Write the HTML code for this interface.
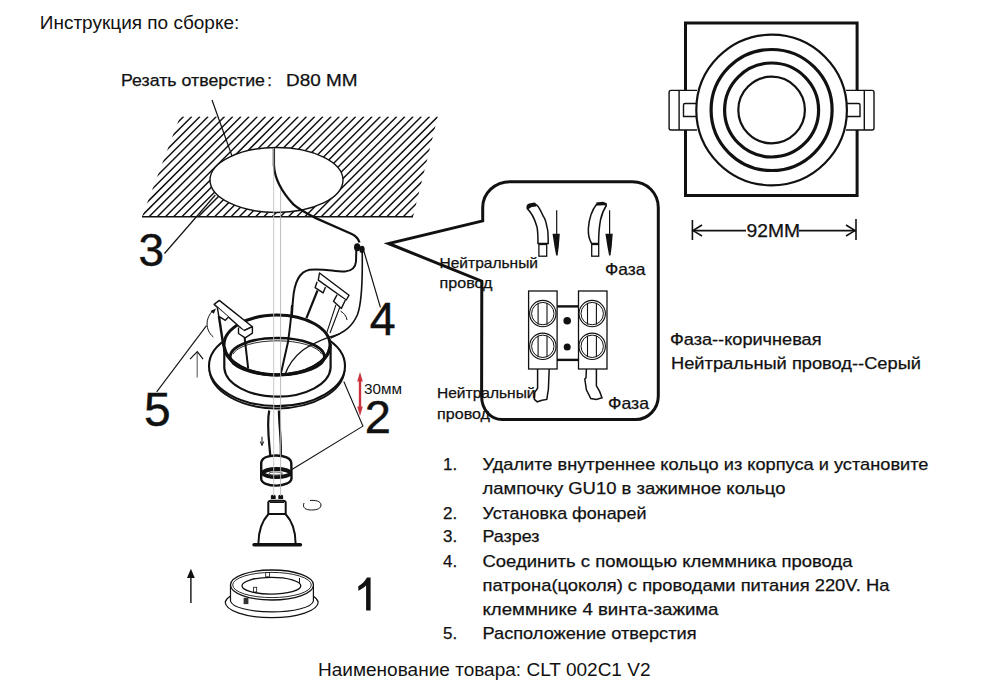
<!DOCTYPE html>
<html><head><meta charset="utf-8">
<style>
html,body{margin:0;padding:0;background:#fff;width:1000px;height:690px;overflow:hidden}
svg{display:block}
text{font-family:"Liberation Sans",sans-serif;fill:#111}
.cal text{stroke:#111;stroke-width:0.25}
text.big{stroke:#111;stroke-width:0.45}
</style></head><body>
<svg width="1000" height="690" viewBox="0 0 1000 690">
<defs>
  <pattern id="hatch" patternUnits="userSpaceOnUse" width="8.3" height="8.3" patternTransform="rotate(45)">
    <line x1="0" y1="0" x2="0" y2="8.3" stroke="#111" stroke-width="1.3"/>
  </pattern>
  <clipPath id="hclip"><path d="M180,116.6 L437.8,116.6 L413,216.8 L142,216.8 Z"/></clipPath>
</defs>

<!-- title -->

<!-- hatched ceiling -->
<g clip-path="url(#hclip)">
  <path d="M544.4,116.6 l-102,102 M536.2,116.6 l-102,102 M528.0,116.6 l-102,102 M519.8,116.6 l-102,102 M511.6,116.6 l-102,102 M503.4,116.6 l-102,102 M495.2,116.6 l-102,102 M487.0,116.6 l-102,102 M478.8,116.6 l-102,102 M470.6,116.6 l-102,102 M462.4,116.6 l-102,102 M454.2,116.6 l-102,102 M446.0,116.6 l-102,102 M437.8,116.6 l-102,102 M429.6,116.6 l-102,102 M421.4,116.6 l-102,102 M413.2,116.6 l-102,102 M405.0,116.6 l-102,102 M396.8,116.6 l-102,102 M388.6,116.6 l-102,102 M380.4,116.6 l-102,102 M372.2,116.6 l-102,102 M364.0,116.6 l-102,102 M355.8,116.6 l-102,102 M347.6,116.6 l-102,102 M339.4,116.6 l-102,102 M331.2,116.6 l-102,102 M323.0,116.6 l-102,102 M314.8,116.6 l-102,102 M306.6,116.6 l-102,102 M298.4,116.6 l-102,102 M290.2,116.6 l-102,102 M282.0,116.6 l-102,102 M273.8,116.6 l-102,102 M265.6,116.6 l-102,102 M257.4,116.6 l-102,102 M249.2,116.6 l-102,102 M241.0,116.6 l-102,102 M232.8,116.6 l-102,102 M224.6,116.6 l-102,102 M216.4,116.6 l-102,102 M208.2,116.6 l-102,102 M200.0,116.6 l-102,102 M191.8,116.6 l-102,102 M183.6,116.6 l-102,102 M175.4,116.6 l-102,102 M167.2,116.6 l-102,102 M159.0,116.6 l-102,102 M150.8,116.6 l-102,102 M142.6,116.6 l-102,102 M134.4,116.6 l-102,102" stroke="#111" stroke-width="1.45" fill="none"/>
</g>
<ellipse cx="276.5" cy="180" rx="66.5" ry="32.5" fill="#fff" stroke="#111" stroke-width="1.4"/>
<line x1="142" y1="216.8" x2="413" y2="216.8" stroke="#111" stroke-width="1.6"/>
<line x1="212" y1="100" x2="232" y2="156" stroke="#111" stroke-width="1.2"/>
<line x1="164.5" y1="253.5" x2="215.3" y2="195" stroke="#111" stroke-width="1.2"/>


<!-- wire top -->
<path d="M273.9,147.8 L273.9,165 C274.5,178 280,190 293.4,204.4 C298,208.5 304,212 314.7,217.6 L351.2,233.8 C356,236 358.5,239 359.5,242.5" fill="none" stroke="#111" stroke-width="2.3"/>
<ellipse cx="357.2" cy="247.2" rx="3.2" ry="4" fill="#111"/>
<ellipse cx="362" cy="249.4" rx="2.7" ry="3.6" fill="#111"/>
<line x1="364" y1="251.5" x2="380.4" y2="307.4" stroke="#111" stroke-width="1.2"/>
<!-- wire A -->
<path d="M356.3,250 L356,261.5 C355.5,267 353,271 345,271.5 C336,272 322,268 309.6,269.8 C298,272 294,285 293,300 C292,310 292,320 291,330" fill="none" stroke="#111" stroke-width="2"/>
<!-- wire B -->
<path d="M362.2,252 C362.5,270 363,300 357.4,314.8 C352,327 345,332 330.6,338" fill="none" stroke="#111" stroke-width="1.6"/>

<!-- big digits -->

<!-- ring (2) -->
<g fill="none" stroke="#111">
  <path d="M209.5,370 A67.6,40 0 0 0 344.6,370" stroke-width="1.9"/>
  <ellipse cx="277" cy="366" rx="68" ry="40" fill="#fff" stroke-width="2.1"/>
</g>
<path d="M224.3,345 L224.3,368 A53.2,30 0 0 0 330.6,368 L330.6,345 Z" fill="#fff" stroke="#111" stroke-width="2.2"/>
<ellipse cx="277" cy="345" rx="53" ry="30" fill="#fff" stroke="#111" stroke-width="3"/>
<!-- clip legs behind -->
<g stroke="#111" fill="none">
  <path d="M218.9,316.3 L223.4,346" stroke-width="2.4"/>
  <path d="M244.6,337.4 L248.2,368.6" stroke-width="2"/>
  <path d="M317.5,290.5 L306.4,318.2" stroke-width="2.2"/>
  <path d="M335.9,304.8 L326.8,332.6 M339.8,307.2 L330,333" stroke-width="1.1"/>
</g>
<!-- inner wires -->
<path d="M292,305 C291,320 289,335 288,342 L280.6,375" fill="none" stroke="#111" stroke-width="2"/>
<path d="M340,333.8 C328,337 313,343 303,350 C294,357 288,366 284.8,375" fill="none" stroke="#111" stroke-width="1.3"/>
<ellipse cx="277.3" cy="356.5" rx="47.1" ry="18.5" fill="none" stroke="#111" stroke-width="2.7"/>
<path d="M233,354 A45,16 0 0 1 321.6,354" fill="none" stroke="#111" stroke-width="0.9"/>
<!-- re-draw rim front -->
<path d="M224.3,347 A53,30 0 0 0 330,347" fill="none" stroke="#111" stroke-width="3"/>
<!-- clips -->
<g stroke="#111" stroke-width="1.4" fill="#fff" stroke-linejoin="round">
  <path d="M214.1,304.4 L219.3,300.4 L252.4,326.7 L244,330.7 Z"/>
  <path d="M244,330.7 L252.4,326.7 L252.4,333.1 L245.2,337.8 L238.5,333.5 L238.5,327.5"/>
  <path d="M217.3,307.5 L218.9,316.3 L225.3,320.3 L228.5,317.1"/>
  <path d="M319.5,273 L349,295.3 L346.2,300 L318.3,280.1 Z"/>
  <path d="M317.1,281.7 L315.1,287.7 L323.1,292.9 L325.5,286.9"/>
  <path d="M337,294.9 L333.5,301.3 L341.4,308.4 L345.4,300"/>
</g>
<g stroke="#111" fill="none" stroke-width="1">
  <path d="M213.3,337 C205,330 205,318 213.3,310.3"/>
  <path d="M340.6,311.2 C344,313 346.5,316 347,320"/>
</g>
<path d="M210.5,311 L216,308.5 L213.8,313.8 Z" fill="#111"/>
<!-- red arrow 30mm -->
<g stroke="#cc3540" fill="#cc3540">
  <line x1="360" y1="378" x2="360" y2="410" stroke-width="2.4"/>
  <path d="M357.2,381.5 L360,372 L362.8,381.5 Z" stroke="none"/>
  <path d="M357.2,406.5 L360,416 L362.8,406.5 Z" stroke="none"/>
</g>
<polyline points="343.8,381.5 362.9,426.1 291.5,469.7" fill="none" stroke="#111" stroke-width="1.1"/>

<!-- clip 5 leader, arrows -->
<line x1="156.7" y1="391.9" x2="206.5" y2="325.6" stroke="#111" stroke-width="1.1"/>
<line x1="197.2" y1="377.5" x2="197.2" y2="353" stroke="#777" stroke-width="1.3"/>
<polyline points="190,359.2 197.3,351.6 203.1,359.2" stroke="#111" fill="none" stroke-width="1.2"/>

<!-- cable + socket -->
<path d="M269.2,410.5 C266.5,425 269,440 270.3,456" fill="none" stroke="#111" stroke-width="2.2"/>
<path d="M278.9,410.5 C279,425 281.5,440 280.8,456" fill="none" stroke="#111" stroke-width="2.2"/>
<path d="M261.2,463.1 C261.5,458 268,455.5 276.1,455.5 C284,455.5 291,458 291.3,463.1 L291.5,478.3 C291,483 284,485.6 276.5,485.6 C268,485.6 261.5,483 261.2,479 Z" fill="#fff" stroke="#111" stroke-width="2.4"/>
<ellipse cx="276.6" cy="473.1" rx="13.6" ry="4" fill="none" stroke="#111" stroke-width="4"/>
<ellipse cx="275.7" cy="473.6" rx="6.5" ry="1.6" fill="none" stroke="#555" stroke-width="1.2"/>
<g stroke="#111" fill="none" stroke-width="1">
  <line x1="262" y1="436.7" x2="262" y2="445"/>
  <polyline points="260.3,441.5 262,445.5 263.7,441.5"/>
</g>

<!-- lamp -->
<path d="M270.9,499.1 L270.9,496 Q271,494.8 273.3,494.8 Q275.7,494.8 275.7,496 L275.7,499.1 Z M278.3,499.1 L278.3,496 Q278.4,494.8 280.7,494.8 Q283.1,494.8 283.1,496 L283.1,499.1 Z" fill="#111"/>
<path d="M268.3,513.9 L268.3,502.5 Q268.5,500.8 271,500.8 L283,500.8 Q285.6,500.8 285.7,502.5 L285.7,513.9 Z" fill="#fff" stroke="#111" stroke-width="2"/>
<line x1="270" y1="502.3" x2="284" y2="502.3" stroke="#111" stroke-width="1.4"/>
<path d="M268.3,514.2 C262,521 258.5,530 258.4,543.5 M285.7,514.2 C292,521 295.6,530 295.6,543.5" fill="none" stroke="#111" stroke-width="2"/>
<line x1="254" y1="544.8" x2="300.5" y2="544.8" stroke="#111" stroke-width="3.4" stroke-linecap="round"/>
<path d="M304,503 C302,508 306,510 311.6,510 C318,510 321,508 321,505 C321,501 315,500 310,500.5" fill="none" stroke="#111" stroke-width="1"/>

<!-- ring 1 -->
<path d="M225.2,602 A46.5,15.7 0 0 0 318.2,602 A46.5,15.7 0 0 0 313,596 L230.5,596 A46.5,15.7 0 0 0 225.2,602 Z" fill="#fff" stroke="#111" stroke-width="1.2"/>
<path d="M230.5,585 L230.5,601 A41.5,11.5 0 0 0 313.4,601 L313.4,585 Z" fill="#fff" stroke="#111" stroke-width="1.2"/>
<ellipse cx="272" cy="585" rx="41.5" ry="15" fill="#fff" stroke="#111" stroke-width="1.3"/>
<ellipse cx="272" cy="585" rx="39.3" ry="12.6" fill="none" stroke="#111" stroke-width="0.9"/>
<ellipse cx="271.4" cy="585.7" rx="29.4" ry="8.4" fill="none" stroke="#111" stroke-width="1.3"/>
<rect x="265.7" y="572.6" width="3.7" height="4.2" fill="#fff" stroke="#111" stroke-width="0.8"/>
<rect x="253.6" y="587.3" width="3.1" height="4.7" fill="#fff" stroke="#111" stroke-width="0.8"/>
<rect x="243.6" y="597.8" width="4.8" height="6.3" fill="#333"/>
<line x1="299.5" y1="578" x2="299.5" y2="583" stroke="#111" stroke-width="1"/>
<g stroke="#111" stroke-width="1.4"><line x1="190.9" y1="603" x2="190.9" y2="575"/></g>
<path d="M187,578 L190.9,568.7 L194.8,578 Z" fill="#111"/>

<!-- center axis -->
<line x1="273.7" y1="148" x2="273.7" y2="496" stroke="#c4c4c4" stroke-width="0.9"/>
<line x1="280.6" y1="190" x2="280.6" y2="496" stroke="#b4b4b4" stroke-width="0.9"/>
<!-- speech bubble -->
<path d="M482.7,207.7 C482.7,193 495,181.7 510,181.7 L632.3,181.7 C647,181.7 658.3,193 658.3,207.7 L658.3,396 C658.3,409 648,419.5 636,419.5 L502,419.5 C491,419.5 481.6,410 481.6,396 L481.8,281.2 L388.5,243.5 L482.7,220.9 Z" fill="none" stroke="#111" stroke-width="3"/>


<!-- wire icons -->
<g fill="none" stroke="#111" stroke-width="1.5">
  <path d="M527.3,208.6 C531,212 535,220 537,227 C538,232 538,238 538,243.5 L548.2,243.5 C548.2,236 548,230 547.2,228 C546,222 544,217 543.3,216.4 C541,211 539,207 536.5,204.7"/>
  <rect x="538.9" y="244.5" width="7.8" height="11.7" stroke-width="1.3"/>
  <path d="M596.6,204.2 C592,210 589,220 588.4,228 C588,234 589.5,240 591.6,243.5 L598.6,243.5 C598.6,236 599,228 600.5,220 C602,213 604,209 606.4,205.5"/>
  <rect x="591.7" y="244.5" width="7" height="11.7" stroke-width="1.3"/>
  <line x1="556.7" y1="210.3" x2="556.7" y2="236" stroke-width="1.2"/>
  <line x1="609.6" y1="210.3" x2="609.6" y2="236" stroke-width="1.2"/>
</g>
<path d="M526.3,208.6 L526.8,205 L529,203.6 L534.6,202.6 L537,204.5 L536.2,206.5 L531.7,207 L527.8,209.5 Z" fill="#111"/>
<path d="M596,205.6 L596.3,202.6 L603,201.8 L606.8,203.2 L607,206 L604,205.2 L599,205.6 Z" fill="#111"/>
<path d="M552.5,233.8 L559.8,233.8 L558.8,246.5 L557.6,255.5 L556.2,255.5 L554.5,246.5 Z" fill="#111"/>
<path d="M605.4,233.8 L612.7,233.8 L611.7,246.5 L610.5,255.5 L609.1,255.5 L607.4,246.5 Z" fill="#111"/>

<!-- terminal block -->
<g fill="none" stroke="#111">
  <rect x="528.6" y="291" width="28.5" height="78" stroke-width="1.3"/>
  <rect x="578.5" y="291" width="28.5" height="78" stroke-width="1.3"/>
  <line x1="557" y1="306.4" x2="578.5" y2="306.4" stroke-width="2.4"/>
  <line x1="557" y1="359.9" x2="578.5" y2="359.9" stroke-width="2.4"/>
  <circle cx="542.8" cy="313.6" r="13.2" stroke-width="1.1"/><circle cx="542.8" cy="313.6" r="11.2" stroke-width="1"/>
  <circle cx="542.8" cy="346.3" r="13.2" stroke-width="1.1"/><circle cx="542.8" cy="346.3" r="11.2" stroke-width="1"/>
  <circle cx="592.2" cy="313.6" r="13.2" stroke-width="1.1"/><circle cx="592.2" cy="313.6" r="11.2" stroke-width="1"/>
  <circle cx="592.2" cy="346.3" r="13.2" stroke-width="1.1"/><circle cx="592.2" cy="346.3" r="11.2" stroke-width="1"/>
  <path d="M538.1,303 V324.5 M547,303 V324.5 M538.1,335.7 V357 M547,335.7 V357 M587.5,303 V324.5 M596.4,303 V324.5 M587.5,335.7 V357 M596.4,335.7 V357" stroke-width="1.1"/>
  <path d="M537.6,369 L537.6,388.2 L534.8,392.2 L534.4,399.4 L537.2,401.8 L542,400.2 L546.8,399.4 L548.4,389 L549.2,369" stroke-width="1.5"/>
  <path d="M586.4,369 L586,377.8 L584.8,379 L586.4,389.8 L590.8,398.6 L596.4,399.4 L602,397.8 L599.6,391.4 L596.4,385.8 L596.4,369" stroke-width="1.5"/>
</g>
<circle cx="567.2" cy="320.7" r="3.8" fill="#111"/>
<circle cx="567.2" cy="346.9" r="3.5" fill="#111"/>

<!-- top view -->
<g fill="none" stroke="#111">
  <rect x="685.5" y="23" width="171.6" height="172.5" fill="#fff" stroke-width="3"/>
  <path d="M697,90.4 L671,90.4 Q669.1,90.4 669.1,92.5 L669.1,128 Q669.1,130 671,130 L697,130 M679.1,90.4 V130 M697,103.5 L685,103.5 Q683.5,103.5 683.5,105 L683.5,116.5 L697,116.5" stroke-width="1.4" fill="#fff"/>
  <path d="M846,90.4 L872,90.4 Q874,90.4 874,92.5 L874,128 Q874,130 872,130 L846,130 M864.3,90.4 V130 M846,103.5 L858.5,103.5 Q860,103.5 860,105 L860,116.5 L846,116.5" stroke-width="1.4" fill="#fff"/>
  <circle cx="771.6" cy="110" r="75.3" fill="#fff" stroke-width="2.2"/>
  <circle cx="771.6" cy="110" r="60.5" stroke-width="3.2"/>
  <circle cx="771.6" cy="110" r="47" stroke-width="3.2"/>
  <circle cx="771.6" cy="110" r="33.3" stroke-width="2.2"/>
</g>
<g stroke="#111" fill="none" stroke-width="1.6">
  <line x1="692.4" y1="220" x2="692.4" y2="240"/>
  <line x1="856" y1="219" x2="856" y2="240"/>
  <line x1="692.4" y1="230.6" x2="746" y2="230.6"/>
  <line x1="799" y1="230.6" x2="856" y2="230.6"/>
  <polyline points="702,225 693,230.6 702,236"/>
  <polyline points="846,225 855,230.6 846,236"/>
</g>

<!-- right legend -->

<!-- list -->
<!-- TEXTS -->
<g class="arial">
<text x="39.8" y="29.2" font-size="18.8" textLength="199.5" lengthAdjust="spacingAndGlyphs">Инструкция по сборке:</text>
<text x="318" y="675.9" font-size="18.9" textLength="332.5" lengthAdjust="spacingAndGlyphs">Наименование товара: CLT 002C1 V2</text>
<text x="364" y="394.2" font-size="14.6" textLength="38" lengthAdjust="spacingAndGlyphs">30мм</text>
<text class="big" x="138.6" y="265.6" font-size="46">3</text>
<text class="big" x="369.8" y="335.2" font-size="46.5">4</text>
<text class="big" x="144" y="425.6" font-size="48">5</text>
<text class="big" x="364.8" y="433" font-size="47">2</text>
</g>
<path d="M366.1,610.4 L366.1,585.5 C363.5,588 361,589.5 358.3,590.8 L358.3,586.3 C362,584 365,581 367,577.4 L370.6,577.4 L370.6,610.4 Z" fill="#111"/>
<g class="cal">
<text x="121" y="85.6" font-size="16.8" textLength="144" lengthAdjust="spacingAndGlyphs">Резать отверстие</text>
<text x="267.3" y="85.6" font-size="16.8">:</text>
<text x="286" y="85.6" font-size="16.8" textLength="71.5" lengthAdjust="spacingAndGlyphs">D80 MM</text>
<text x="439.5" y="268.2" font-size="14.5" textLength="98.5" lengthAdjust="spacingAndGlyphs">Нейтральный</text>
<text x="439.5" y="288" font-size="14.5" textLength="53" lengthAdjust="spacingAndGlyphs">провод</text>
<text x="605" y="274.8" font-size="16.5" textLength="40.5" lengthAdjust="spacingAndGlyphs">Фаза</text>
<text x="437" y="398.2" font-size="14.5" textLength="98.5" lengthAdjust="spacingAndGlyphs">Нейтральный</text>
<text x="437" y="418.5" font-size="14.5" textLength="53" lengthAdjust="spacingAndGlyphs">провод</text>
<text x="608" y="409.2" font-size="16.5" textLength="41" lengthAdjust="spacingAndGlyphs">Фаза</text>
<text x="746.5" y="237" font-size="18" textLength="53.5" lengthAdjust="spacingAndGlyphs">92MM</text>
<text x="670" y="345" font-size="16" textLength="151.5" lengthAdjust="spacingAndGlyphs">Фаза--коричневая</text>
<text x="671" y="369" font-size="16" textLength="250" lengthAdjust="spacingAndGlyphs">Нейтральный провод--Серый</text>
<text x="443" y="469.6" font-size="17">1.</text>
<text x="482.5" y="469.6" font-size="17" textLength="446" lengthAdjust="spacingAndGlyphs">Удалите внутреннее кольцо из корпуса и установите</text>
<text x="482.5" y="493.6" font-size="17" textLength="303" lengthAdjust="spacingAndGlyphs">лампочку GU10 в зажимное кольцо</text>
<text x="443" y="518.8" font-size="17">2.</text>
<text x="482.5" y="518.8" font-size="17" textLength="164" lengthAdjust="spacingAndGlyphs">Установка фонарей</text>
<text x="443" y="542.4" font-size="17">3.</text>
<text x="482.5" y="542.4" font-size="17" textLength="57" lengthAdjust="spacingAndGlyphs">Разрез</text>
<text x="443" y="566.7" font-size="17">4.</text>
<text x="482.5" y="566.7" font-size="17" textLength="370" lengthAdjust="spacingAndGlyphs">Соединить с помощью клеммника провода</text>
<text x="482.5" y="590.6" font-size="17" textLength="407" lengthAdjust="spacingAndGlyphs">патрона(цоколя) с проводами питания 220V. На</text>
<text x="482.5" y="614.5" font-size="17" textLength="236" lengthAdjust="spacingAndGlyphs">клеммнике 4 винта-зажима</text>
<text x="443" y="638.7" font-size="17">5.</text>
<text x="482.5" y="638.7" font-size="17" textLength="214" lengthAdjust="spacingAndGlyphs">Расположение отверстия</text>
</g>
</svg>
</body></html>
